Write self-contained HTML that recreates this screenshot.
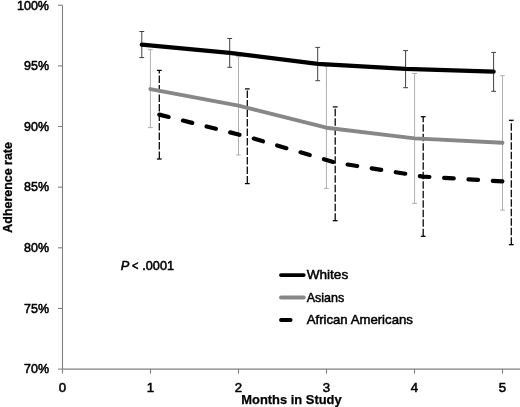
<!DOCTYPE html>
<html><head><meta charset="utf-8"><title>Chart</title>
<style>html,body{margin:0;padding:0;background:#fff;}body{width:520px;height:407px;overflow:hidden;font-family:"Liberation Sans",sans-serif;}</style></head>
<body>
<svg width="520" height="407" viewBox="0 0 520 407" style="display:block;filter:grayscale(1);font-family:'Liberation Sans',sans-serif">
<rect width="520" height="407" fill="#fff"/>
<line x1="62.5" y1="5.2" x2="62.5" y2="369.1" stroke="#808080" stroke-width="1.1"/>
<line x1="62.5" y1="369.1" x2="520" y2="369.1" stroke="#808080" stroke-width="1.1"/>
<line x1="58.0" y1="5.20" x2="62.5" y2="5.20" stroke="#808080" stroke-width="1.1"/>
<line x1="58.0" y1="65.85" x2="62.5" y2="65.85" stroke="#808080" stroke-width="1.1"/>
<line x1="58.0" y1="126.50" x2="62.5" y2="126.50" stroke="#808080" stroke-width="1.1"/>
<line x1="58.0" y1="187.15" x2="62.5" y2="187.15" stroke="#808080" stroke-width="1.1"/>
<line x1="58.0" y1="247.80" x2="62.5" y2="247.80" stroke="#808080" stroke-width="1.1"/>
<line x1="58.0" y1="308.45" x2="62.5" y2="308.45" stroke="#808080" stroke-width="1.1"/>
<line x1="58.0" y1="369.10" x2="62.5" y2="369.10" stroke="#808080" stroke-width="1.1"/>
<line x1="62.50" y1="369.1" x2="62.50" y2="373.6" stroke="#808080" stroke-width="1.1"/>
<line x1="150.50" y1="369.1" x2="150.50" y2="373.6" stroke="#808080" stroke-width="1.1"/>
<line x1="238.50" y1="369.1" x2="238.50" y2="373.6" stroke="#808080" stroke-width="1.1"/>
<line x1="326.50" y1="369.1" x2="326.50" y2="373.6" stroke="#808080" stroke-width="1.1"/>
<line x1="414.50" y1="369.1" x2="414.50" y2="373.6" stroke="#808080" stroke-width="1.1"/>
<line x1="502.50" y1="369.1" x2="502.50" y2="373.6" stroke="#808080" stroke-width="1.1"/>
<text x="49" y="9.50" font-size="13.2" text-anchor="end" textLength="32.0" lengthAdjust="spacingAndGlyphs" fill="#000" stroke="#000" stroke-width="0.55">100%</text>
<text x="49" y="70.15" font-size="13.2" text-anchor="end" textLength="25.0" lengthAdjust="spacingAndGlyphs" fill="#000" stroke="#000" stroke-width="0.55">95%</text>
<text x="49" y="130.80" font-size="13.2" text-anchor="end" textLength="25.0" lengthAdjust="spacingAndGlyphs" fill="#000" stroke="#000" stroke-width="0.55">90%</text>
<text x="49" y="191.45" font-size="13.2" text-anchor="end" textLength="25.0" lengthAdjust="spacingAndGlyphs" fill="#000" stroke="#000" stroke-width="0.55">85%</text>
<text x="49" y="252.10" font-size="13.2" text-anchor="end" textLength="25.0" lengthAdjust="spacingAndGlyphs" fill="#000" stroke="#000" stroke-width="0.55">80%</text>
<text x="49" y="312.75" font-size="13.2" text-anchor="end" textLength="25.0" lengthAdjust="spacingAndGlyphs" fill="#000" stroke="#000" stroke-width="0.55">75%</text>
<text x="49" y="373.40" font-size="13.2" text-anchor="end" textLength="25.0" lengthAdjust="spacingAndGlyphs" fill="#000" stroke="#000" stroke-width="0.55">70%</text>
<text x="62.50" y="392.0" font-size="13.2" text-anchor="middle" fill="#000" stroke="#000" stroke-width="0.55">0</text>
<text x="150.50" y="392.0" font-size="13.2" text-anchor="middle" fill="#000" stroke="#000" stroke-width="0.55">1</text>
<text x="238.50" y="392.0" font-size="13.2" text-anchor="middle" fill="#000" stroke="#000" stroke-width="0.55">2</text>
<text x="326.50" y="392.0" font-size="13.2" text-anchor="middle" fill="#000" stroke="#000" stroke-width="0.55">3</text>
<text x="414.50" y="392.0" font-size="13.2" text-anchor="middle" fill="#000" stroke="#000" stroke-width="0.55">4</text>
<text x="502.50" y="392.0" font-size="13.2" text-anchor="middle" fill="#000" stroke="#000" stroke-width="0.55">5</text>
<text x="291.5" y="404" font-size="13.3" font-weight="bold" text-anchor="middle" textLength="100.4" lengthAdjust="spacingAndGlyphs" fill="#000" stroke="#000" stroke-width="0.25">Months in Study</text>
<text transform="translate(12.3,187.4) rotate(-90)" font-size="13.7" font-weight="bold" text-anchor="middle" textLength="90.6" lengthAdjust="spacingAndGlyphs" fill="#000" stroke="#000" stroke-width="0.3">Adherence rate</text>
<line x1="150.4" y1="127.6" x2="150.4" y2="49.7" stroke="#ababab" stroke-width="0.95"/>
<line x1="148.0" y1="49.7" x2="152.8" y2="49.7" stroke="#ababab" stroke-width="0.95"/>
<line x1="148.0" y1="127.6" x2="152.8" y2="127.6" stroke="#ababab" stroke-width="0.95"/>
<line x1="238.5" y1="155.0" x2="238.5" y2="56.7" stroke="#ababab" stroke-width="0.95"/>
<line x1="236.1" y1="56.7" x2="240.9" y2="56.7" stroke="#ababab" stroke-width="0.95"/>
<line x1="236.1" y1="155.0" x2="240.9" y2="155.0" stroke="#ababab" stroke-width="0.95"/>
<line x1="326.4" y1="188.4" x2="326.4" y2="66.5" stroke="#ababab" stroke-width="0.95"/>
<line x1="324.0" y1="66.5" x2="328.79999999999995" y2="66.5" stroke="#ababab" stroke-width="0.95"/>
<line x1="324.0" y1="188.4" x2="328.79999999999995" y2="188.4" stroke="#ababab" stroke-width="0.95"/>
<line x1="414.6" y1="203.4" x2="414.6" y2="73.5" stroke="#ababab" stroke-width="0.95"/>
<line x1="412.20000000000005" y1="73.5" x2="417.0" y2="73.5" stroke="#ababab" stroke-width="0.95"/>
<line x1="412.20000000000005" y1="203.4" x2="417.0" y2="203.4" stroke="#ababab" stroke-width="0.95"/>
<line x1="502.5" y1="210.1" x2="502.5" y2="75.7" stroke="#ababab" stroke-width="0.95"/>
<line x1="500.1" y1="75.7" x2="504.9" y2="75.7" stroke="#ababab" stroke-width="0.95"/>
<line x1="500.1" y1="210.1" x2="504.9" y2="210.1" stroke="#ababab" stroke-width="0.95"/>

<line x1="141.8" y1="57.6" x2="141.8" y2="31.5" stroke="#404040" stroke-width="1"/>
<line x1="139.4" y1="31.5" x2="144.20000000000002" y2="31.5" stroke="#404040" stroke-width="1"/>
<line x1="139.4" y1="57.6" x2="144.20000000000002" y2="57.6" stroke="#404040" stroke-width="1"/>
<line x1="229.7" y1="67.3" x2="229.7" y2="38.5" stroke="#404040" stroke-width="1"/>
<line x1="227.29999999999998" y1="38.5" x2="232.1" y2="38.5" stroke="#404040" stroke-width="1"/>
<line x1="227.29999999999998" y1="67.3" x2="232.1" y2="67.3" stroke="#404040" stroke-width="1"/>
<line x1="317.7" y1="80.7" x2="317.7" y2="47.4" stroke="#404040" stroke-width="1"/>
<line x1="315.3" y1="47.4" x2="320.09999999999997" y2="47.4" stroke="#404040" stroke-width="1"/>
<line x1="315.3" y1="80.7" x2="320.09999999999997" y2="80.7" stroke="#404040" stroke-width="1"/>
<line x1="405.6" y1="87.7" x2="405.6" y2="50.6" stroke="#404040" stroke-width="1"/>
<line x1="403.20000000000005" y1="50.6" x2="408.0" y2="50.6" stroke="#404040" stroke-width="1"/>
<line x1="403.20000000000005" y1="87.7" x2="408.0" y2="87.7" stroke="#404040" stroke-width="1"/>
<line x1="493.6" y1="91.3" x2="493.6" y2="52.4" stroke="#404040" stroke-width="1"/>
<line x1="491.20000000000005" y1="52.4" x2="496.0" y2="52.4" stroke="#404040" stroke-width="1"/>
<line x1="491.20000000000005" y1="91.3" x2="496.0" y2="91.3" stroke="#404040" stroke-width="1"/>

<line x1="159.3" y1="159.0" x2="159.3" y2="70.4" stroke="#000" stroke-width="1.25" stroke-dasharray="7.5 2"/>
<line x1="156.9" y1="70.4" x2="161.70000000000002" y2="70.4" stroke="#000" stroke-width="1.25"/>
<line x1="156.9" y1="159.0" x2="161.70000000000002" y2="159.0" stroke="#000" stroke-width="1.25"/>
<line x1="247.3" y1="183.6" x2="247.3" y2="88.9" stroke="#000" stroke-width="1.25" stroke-dasharray="7.5 2"/>
<line x1="244.9" y1="88.9" x2="249.70000000000002" y2="88.9" stroke="#000" stroke-width="1.25"/>
<line x1="244.9" y1="183.6" x2="249.70000000000002" y2="183.6" stroke="#000" stroke-width="1.25"/>
<line x1="335.2" y1="220.7" x2="335.2" y2="106.9" stroke="#000" stroke-width="1.25" stroke-dasharray="7.5 2"/>
<line x1="332.8" y1="106.9" x2="337.59999999999997" y2="106.9" stroke="#000" stroke-width="1.25"/>
<line x1="332.8" y1="220.7" x2="337.59999999999997" y2="220.7" stroke="#000" stroke-width="1.25"/>
<line x1="423.2" y1="236.3" x2="423.2" y2="116.7" stroke="#000" stroke-width="1.25" stroke-dasharray="7.5 2"/>
<line x1="420.8" y1="116.7" x2="425.59999999999997" y2="116.7" stroke="#000" stroke-width="1.25"/>
<line x1="420.8" y1="236.3" x2="425.59999999999997" y2="236.3" stroke="#000" stroke-width="1.25"/>
<line x1="511.3" y1="244.7" x2="511.3" y2="120.3" stroke="#000" stroke-width="1.25" stroke-dasharray="7.5 2"/>
<line x1="508.90000000000003" y1="120.3" x2="513.7" y2="120.3" stroke="#000" stroke-width="1.25"/>
<line x1="508.90000000000003" y1="244.7" x2="513.7" y2="244.7" stroke="#000" stroke-width="1.25"/>

<polyline points="150.4,89.05 238.5,105.6 326.4,127.7 414.6,138.4 502.5,142.8" fill="none" stroke="#878787" stroke-width="3.9" stroke-linecap="round" stroke-linejoin="round"/>
<polyline points="159.3,114.6 247.3,136.7 335.2,162.5 423.2,176.6 511.3,182.0" fill="none" stroke="#000" stroke-width="4.2" stroke-linecap="round" stroke-linejoin="round" stroke-dasharray="9.6 14.77" stroke-dashoffset="0"/>
<polyline points="141.8,44.7 229.7,52.8 317.7,63.9 405.6,68.9 493.6,71.6" fill="none" stroke="#000" stroke-width="4.3" stroke-linecap="round" stroke-linejoin="round"/>
<g font-size="12.8" fill="#000" stroke="#000" stroke-width="0.55"><text x="120.8" y="270" font-style="italic">P</text><text x="132.1" y="270" textLength="6.4" lengthAdjust="spacingAndGlyphs">&lt;</text><text x="142.3" y="270" textLength="31.7" lengthAdjust="spacingAndGlyphs">.0001</text></g>
<line x1="281.0" y1="275.1" x2="303.7" y2="275.1" stroke="#000" stroke-width="3.9" stroke-linecap="round"/>
<line x1="281.0" y1="297.5" x2="303.7" y2="297.5" stroke="#878787" stroke-width="3.9" stroke-linecap="round"/>
<line x1="281.0" y1="320" x2="290.6" y2="320" stroke="#000" stroke-width="3.9" stroke-linecap="round"/>
<text x="306.7" y="279.0" font-size="13.4" textLength="41.5" lengthAdjust="spacingAndGlyphs" fill="#000" stroke="#000" stroke-width="0.5">Whites</text>
<text x="306.7" y="301.5" font-size="13.4" textLength="37.6" lengthAdjust="spacingAndGlyphs" fill="#000" stroke="#000" stroke-width="0.5">Asians</text>
<text x="306.7" y="323.8" font-size="13.4" textLength="106.2" lengthAdjust="spacingAndGlyphs" fill="#000" stroke="#000" stroke-width="0.5">African Americans</text>
</svg>
</body></html>
